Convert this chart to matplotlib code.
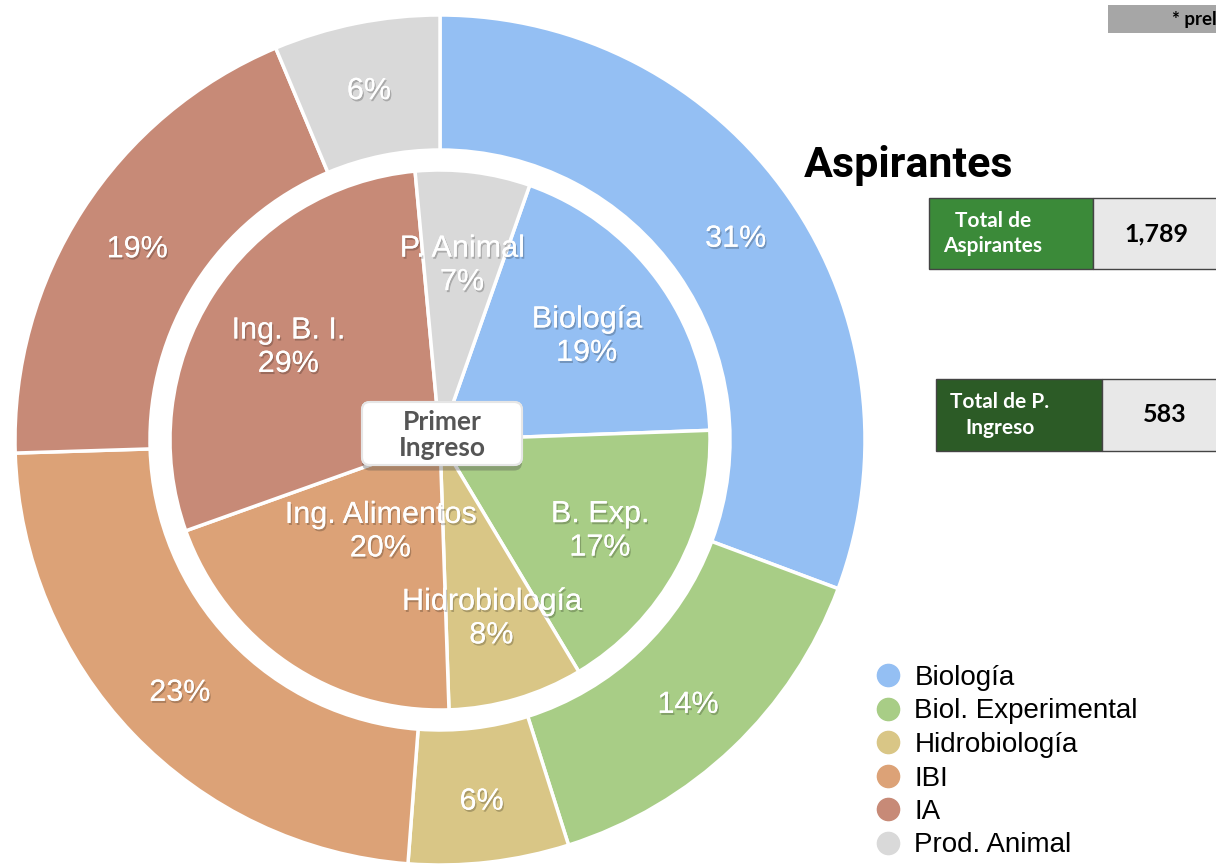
import matplotlib
matplotlib.use("Agg")
import matplotlib.pyplot as plt
import matplotlib.patheffects as pe
from matplotlib.lines import Line2D
from matplotlib.patches import Rectangle, FancyBboxPatch
import numpy as np

# outer ring: aspirantes por carrera (conteos estimados, total 1,789)
careers = ["Biología", "Biol. Experimental", "Hidrobiología", "IBI", "IA", "Prod. Animal"]
aspirantes = [549, 258, 109, 417, 343, 113]
colors = ["#94bff3", "#a8cd86", "#d9c686", "#dca277", "#c78a77", "#d9d9d9"]

# inner pie: primer ingreso (total 583)
inner_names = ["Biología", "B. Exp.", "Hidrobiología", "Ing. Alimentos", "Ing. B. I.", "P. Animal"]
primer_ingreso = [111, 99, 47, 117, 169, 40]

total_aspirantes = "1,789"
total_ingreso = "583"

W, H = 1216, 864
fig = plt.figure(figsize=(W / 100, H / 100), dpi=100)
ax = fig.add_axes([0, 0, 1, 1])

cx, cy = 440, H - 440
R_out, R_hole, R_in = 425, 290, 270

pie_font = ["Liberation Sans", "DejaVu Sans"]
box_font = ["Lato", "DejaVu Sans"]
shadow = [pe.withSimplePatchShadow(offset=(1, -1.5), shadow_rgbFace="k", alpha=0.22), pe.Normal()]

outer, _ = ax.pie(aspirantes, colors=colors, center=(cx, cy), radius=R_out,
                  startangle=90, counterclock=False,
                  wedgeprops=dict(width=R_out - R_hole, edgecolor="white", linewidth=2.5))
inner, _ = ax.pie(primer_ingreso, colors=colors, center=(cx, cy), radius=R_in,
                  startangle=70.6, counterclock=False,
                  wedgeprops=dict(edgecolor="white", linewidth=2.5))


def mid_point(w, r):
    a = np.deg2rad((w.theta1 + w.theta2) / 2)
    return cx + r * np.cos(a), cy + r * np.sin(a) - 4


tot = sum(aspirantes)
for w, v in zip(outer, aspirantes):
    x, y = mid_point(w, 360)
    ax.text(x, y, f"{round(v / tot * 100)}%", ha="center", va="center", fontsize=22,
            color="white", family=pie_font, path_effects=shadow)

tot_in = sum(primer_ingreso)
inner_r = [182, 182, 182, 106, 180, 180]
for w, v, name, r in zip(inner, primer_ingreso, inner_names, inner_r):
    x, y = mid_point(w, r)
    ax.text(x, y, f"{name}\n{round(v / tot_in * 100)}%", ha="center", va="center",
            fontsize=22, color="white", family=pie_font, linespacing=1.15,
            path_effects=shadow)

# etiqueta central
ax.add_patch(FancyBboxPatch((366, H - 461), 152, 55, boxstyle="round,pad=4,rounding_size=8",
                            fc="white", ec="#e6e6e6", lw=1.5, zorder=5,
                            path_effects=[pe.withSimplePatchShadow(offset=(0, -4), alpha=0.35),
                                          pe.Normal()]))
ax.text(442, H - 435, "Primer\nIngreso", ha="center", va="center", fontsize=19,
        fontweight="bold", color="#555555", family=box_font, linespacing=1.05, zorder=6)

# titulo y cajas de totales
ax.text(804, H - 165, "Aspirantes", ha="left", va="center", fontsize=31, fontweight="bold",
        color="black", family=["Roboto", "DejaVu Sans"])


def total_box(x0, x1, y0, y1, label, value, fc):
    ax.add_patch(Rectangle((x0, H - y1), x1 - x0, y1 - y0, fc=fc, ec="#444444", lw=1))
    ax.add_patch(Rectangle((x1, H - y1), W - x1 + 5, y1 - y0, fc="#e8e8e8", ec="#444444", lw=1))
    ax.text(x0 + 64, H - (y0 + y1) / 2, label, ha="center", va="center", fontsize=15,
            fontweight="bold", color="white", family=box_font, linespacing=1.35)
    ax.text(x1 + 63, H - (y0 + y1) / 2, value, ha="center", va="center", fontsize=18,
            fontweight="bold", color="black", family=box_font)


total_box(929, 1093, 198, 269, "Total de\nAspirantes", total_aspirantes, "#3b8a39")
total_box(936, 1102, 379, 451, "Total de P.\nIngreso", total_ingreso, "#2c5b26")

ax.add_patch(Rectangle((1108, H - 33), 120, 28, fc="#a6a6a6", ec="none"))
ax.text(1172, H - 19, "* preliminar", ha="left", va="center", fontsize=13.5, fontweight="bold",
        color="black", family=box_font, clip_on=True)

# leyenda
handles = [Line2D([], [], marker="o", ls="", markersize=16, color=c) for c in colors]
ax.legend(handles, careers, loc="upper left", bbox_to_anchor=(874 / W, 1 - 665 / H),
          bbox_transform=fig.transFigure, frameon=False, borderpad=0,
          handlelength=1.0, handletextpad=0.45, labelspacing=0.27, borderaxespad=0,
          prop=dict(family=pie_font, size=20))

ax.set_xlim(0, W)
ax.set_ylim(0, H)
ax.set_aspect("equal")
ax.axis("off")
fig.savefig("out.png", dpi=100)
